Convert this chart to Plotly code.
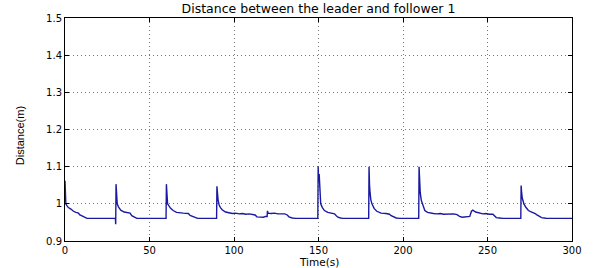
import plotly.graph_objects as go

# Time samples (s) and leader-follower distance (m)
time_s = [
    0, 0.3, 0.5, 1.0, 2, 3.5, 5, 6.5, 8, 8.6, 10.5, 12, 13, 29.8,
    30, 30.2, 30.5, 30.9, 31.6, 33, 35, 37, 38.5, 39.5, 41, 42.5, 59.8,
    60, 60.3, 60.7, 61.5, 62.5, 64, 66, 70, 73, 74, 75.5, 77, 78.5, 89.7,
    89.9, 90.2, 90.6, 91.2, 92, 93, 95, 97, 99, 101, 103, 105, 107, 109, 111,
    112.5, 113.5, 115, 117.5, 118.5, 119.6, 119.8, 120.2, 122, 124, 126, 128,
    130, 131.5, 132.5, 134.5, 136.5, 149.6,
    149.8, 150.1, 150.4, 150.8, 151.3, 152.3, 153.5, 155.5, 157.5, 159.5,
    160.5, 161.5, 163, 164.5, 179.7,
    179.9, 180.2, 180.5, 181, 181.8, 183, 184.5, 187, 190, 192, 193, 194.5,
    196, 198, 209.3,
    209.5, 209.8, 210.2, 210.8, 211.5, 212.9, 214.5, 216, 218, 220, 222, 224,
    226, 228, 230, 232, 233.5, 235, 238, 239.5, 240.5, 241.3, 243, 245, 247.3,
    249, 251, 253.2, 254.2, 255.2, 257, 259, 269.7,
    269.9, 270.2, 270.6, 271.6, 272.8, 274.2, 275.5, 277.2, 278.2, 279, 280.5,
    282, 283.5, 285, 300,
]
distance_m = [
    1.062, 1.03, 1.0, 0.996, 0.99, 0.986, 0.98, 0.977, 0.975, 0.971, 0.966, 0.963, 0.961, 0.961,
    0.945, 1.053, 1.03, 1.0, 0.992, 0.983, 0.978, 0.976, 0.975, 0.968, 0.964, 0.961, 0.961,
    1.053, 1.03, 1.0, 0.993, 0.988, 0.982, 0.977, 0.975, 0.974, 0.969, 0.966, 0.962, 0.961, 0.961,
    1.047, 1.03, 1.01, 0.997, 0.99, 0.984, 0.978, 0.975, 0.974, 0.975, 0.973, 0.974, 0.972, 0.973, 0.972,
    0.970, 0.965, 0.964, 0.964, 0.966, 0.966, 0.981, 0.975, 0.974, 0.975, 0.973, 0.974,
    0.973, 0.970, 0.965, 0.962, 0.961, 0.961,
    1.10, 1.06, 1.08, 1.03, 1.0, 0.99, 0.982, 0.977, 0.975, 0.973,
    0.968, 0.964, 0.962, 0.961, 0.961,
    1.10, 1.05, 1.03, 1.01, 0.998, 0.987, 0.98, 0.975, 0.974, 0.972, 0.968, 0.965,
    0.962, 0.961, 0.961,
    1.10, 1.06, 1.03, 1.01, 0.998, 0.982, 0.977, 0.975, 0.974, 0.973, 0.974, 0.972,
    0.973, 0.972, 0.973, 0.971, 0.966, 0.964, 0.964, 0.966, 0.980, 0.983, 0.978, 0.975, 0.973,
    0.974, 0.972, 0.972, 0.967, 0.963, 0.962, 0.961, 0.961,
    1.049, 1.03, 1.015, 0.999, 0.99, 0.982, 0.979, 0.977, 0.974, 0.971, 0.966,
    0.963, 0.962, 0.961, 0.961,
]

x_ticks = [0, 50, 100, 150, 200, 250, 300]
y_ticks = [0.9, 1.0, 1.1, 1.2, 1.3, 1.4, 1.5]
y_tick_labels = ["0.9", "1", "1.1", "1.2", "1.3", "1.4", "1.5"]

fig = go.Figure()
fig.add_trace(go.Scatter(
    x=time_s, y=distance_m, mode="lines",
    line=dict(color="#1a1aa0", width=1.4),
    showlegend=False,
))

axis_common = dict(
    showline=True, linecolor="black", linewidth=1, mirror="ticks",
    ticks="inside", ticklen=4, tickcolor="black",
    showgrid=True, gridcolor="#777777", griddash="1px,3px", gridwidth=1,
    zeroline=False,
    tickfont=dict(family="DejaVu Sans", size=10, color="black"),
)

fig.update_xaxes(range=[0, 300], tickvals=x_ticks, ticklabelstandoff=0, **axis_common)
fig.update_yaxes(range=[0.9, 1.5], tickvals=y_ticks, ticktext=y_tick_labels, **axis_common)

fig.update_layout(
    width=597, height=268,
    margin=dict(l=65, r=25, t=18, b=27),
    paper_bgcolor="white", plot_bgcolor="white",
    title=dict(
        text="Distance between the leader and follower 1",
        font=dict(family="DejaVu Sans", size=12.5, color="black"),
        x=(65 + 572) / 2 / 597, xanchor="center",
        y=1 - 9 / 268, yanchor="middle", yref="container",
    ),
    annotations=[
        dict(text="Time(s)", x=0.5, xref="paper", y=-(255 - 241) / 223, yref="paper",
             xanchor="center", yanchor="top", showarrow=False, borderpad=0,
             font=dict(family="DejaVu Sans", size=10.5, color="black")),
        dict(text="Distance(m)", x=-(65 - 20) / 507, xref="paper", y=0.47, yref="paper",
             xanchor="center", yanchor="middle", showarrow=False, textangle=-90,
             font=dict(family="Liberation Sans Narrow, Liberation Sans", size=11, color="black")),
    ],
)

fig.write_html("out.html", config={"displayModeBar": False},
               post_script="document.body.style.margin='0';")
